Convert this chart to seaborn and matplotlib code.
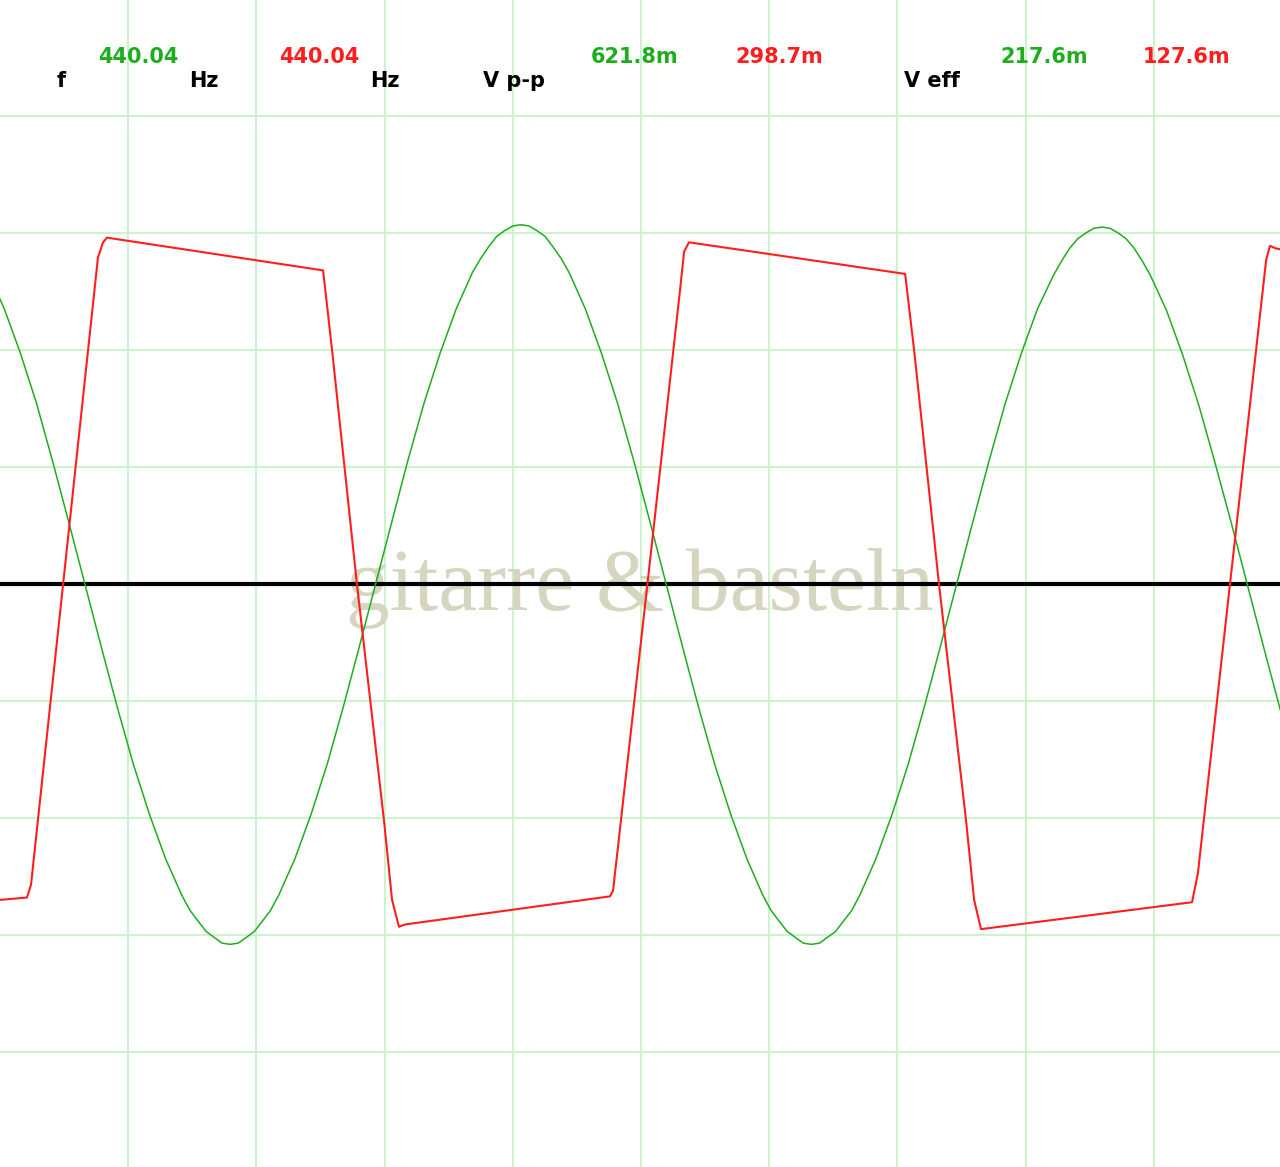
import matplotlib
matplotlib.use("Agg")
import numpy as np
import seaborn as sns
import matplotlib.pyplot as plt

# time axis in ms (0.5 ms per division), vertical axis in screen divisions
green_t = [-0.046, 0.017, 0.080, 0.143, 0.205, 0.268, 0.331, 0.394, 0.457, 0.520,
           0.583, 0.646, 0.709, 0.741, 0.772, 0.804, 0.835, 0.866, 0.898, 0.929,
           0.961, 0.992, 1.024, 1.055, 1.087, 1.150, 1.213, 1.276, 1.339, 1.402,
           1.465, 1.528, 1.590, 1.653, 1.716, 1.779, 1.842, 1.874, 1.905, 1.937,
           1.968, 2.000, 2.031, 2.063, 2.094, 2.126, 2.157, 2.189, 2.220, 2.283,
           2.346, 2.409, 2.472, 2.535, 2.598, 2.661, 2.724, 2.787, 2.850, 2.913,
           2.975, 3.007, 3.038, 3.070, 3.101, 3.133, 3.164, 3.196, 3.227, 3.259,
           3.290, 3.322, 3.353, 3.416, 3.479, 3.542, 3.605, 3.668, 3.731, 3.794,
           3.857, 3.920, 3.983, 4.046, 4.109, 4.140, 4.172, 4.203, 4.235, 4.266,
           4.298, 4.329, 4.361, 4.392, 4.423, 4.455, 4.486, 4.549, 4.612, 4.675,
           4.738, 4.801, 4.864, 4.927, 4.990, 5.053]
green_v = [2.66, 2.35, 1.97, 1.54, 1.05, 0.53, 0.00, -0.53, -1.05, -1.54,
           -1.97, -2.35, -2.66, -2.79, -2.88, -2.97, -3.02, -3.07, -3.08, -3.07,
           -3.02, -2.97, -2.88, -2.79, -2.66, -2.35, -1.97, -1.54, -1.05, -0.53,
           0.00, 0.53, 1.05, 1.54, 1.97, 2.35, 2.66, 2.78, 2.88, 2.97,
           3.02, 3.06, 3.07, 3.06, 3.02, 2.97, 2.88, 2.78, 2.66, 2.35,
           1.97, 1.54, 1.05, 0.53, 0.00, -0.53, -1.05, -1.54, -1.97, -2.35,
           -2.66, -2.79, -2.88, -2.97, -3.02, -3.07, -3.08, -3.07, -3.02, -2.97,
           -2.88, -2.79, -2.66, -2.35, -1.97, -1.54, -1.05, -0.53, 0.00, 0.53,
           1.05, 1.54, 1.97, 2.35, 2.64, 2.76, 2.87, 2.95, 3.00, 3.04,
           3.05, 3.04, 3.00, 2.95, 2.87, 2.76, 2.64, 2.34, 1.96, 1.53,
           1.04, 0.53, 0.00, -0.53, -1.05, -1.54]

red_t = [0.000, 0.105, 0.121, 0.382, 0.402, 0.417, 1.260, 1.295, 1.392, 1.498,
         1.529, 1.556, 1.580, 2.379, 2.391, 2.525, 2.652, 2.668, 2.687, 3.530,
         3.565, 3.662, 3.768, 3.799, 3.826, 4.649, 4.672, 4.797, 4.938, 4.953,
         4.973, 4.992]
red_v = [-2.70, -2.68, -2.57, 2.79, 2.92, 2.96, 2.68, 2.00, 0.00, -2.03,
         -2.70, -2.93, -2.91, -2.67, -2.62, 0.00, 2.51, 2.84, 2.92, 2.65,
         2.00, 0.00, -2.03, -2.70, -2.95, -2.72, -2.47, 0.00, 2.77, 2.89,
         2.87, 2.86]

# readout header
labels = ["f", "Hz", "Hz", "V p-p", "V eff"]
labels_x = [57, 189, 370, 483, 904]
ch1_readings = ["440.04", "621.8m", "217.6m"]
ch1_x = [98, 591, 1000]
ch2_readings = ["440.04", "298.7m", "127.6m"]
ch2_x = [279, 735, 1143]

GREEN = "#1fad1f"
RED = "#ff1e1e"
W, H = 1280, 1167

sns.set_style("white")
plt.rcParams['font.family'] = ['DejaVu Sans']

fig = plt.figure(figsize=(W / 100, H / 100), dpi=100)
ax = fig.add_axes([0, 0, 1, 1])

sns.lineplot(x=green_t, y=green_v, color=GREEN, lw=1.1, sort=False,
             estimator=None, ax=ax, zorder=4)
sns.lineplot(x=red_t, y=red_v, color=RED, lw=1.5, sort=False,
             estimator=None, ax=ax, zorder=5)
ax.axhline(0, color="black", lw=3.0, zorder=3)

ax.set_xlim(0, 4.992)
ax.set_ylim(-4.983, 4.991)
ax.set_xticks(np.arange(0.5, 5.0, 0.5))
ax.set_yticks(np.arange(-4, 5, 1))
ax.tick_params(length=0, labelbottom=False, labelleft=False)
ax.grid(True, color="#c2f2c2", lw=1.2)
ax.set_axisbelow(True)
for s in ax.spines.values():
    s.set_visible(False)
ax.set_xlabel("")
ax.set_ylabel("")

ax.text(0.5, 1 - 610 / H, "gitarre & basteln", transform=ax.transAxes,
        ha="center", va="baseline", fontsize=63, family="Liberation Serif",
        color="#d6d6c0", zorder=2)

hdr = dict(transform=ax.transAxes, ha="left", va="baseline", fontsize=15,
           fontweight="bold", family="DejaVu Sans")
for txt, x in zip(labels, labels_x):
    ax.text(x / W, 1 - 87 / H, txt, color="black", **hdr)
for txt, x in zip(ch1_readings, ch1_x):
    ax.text(x / W, 1 - 63 / H, txt, color=GREEN, **hdr)
for txt, x in zip(ch2_readings, ch2_x):
    ax.text(x / W, 1 - 63 / H, txt, color=RED, **hdr)

fig.savefig("out.png", dpi=100)
plt.close(fig)
